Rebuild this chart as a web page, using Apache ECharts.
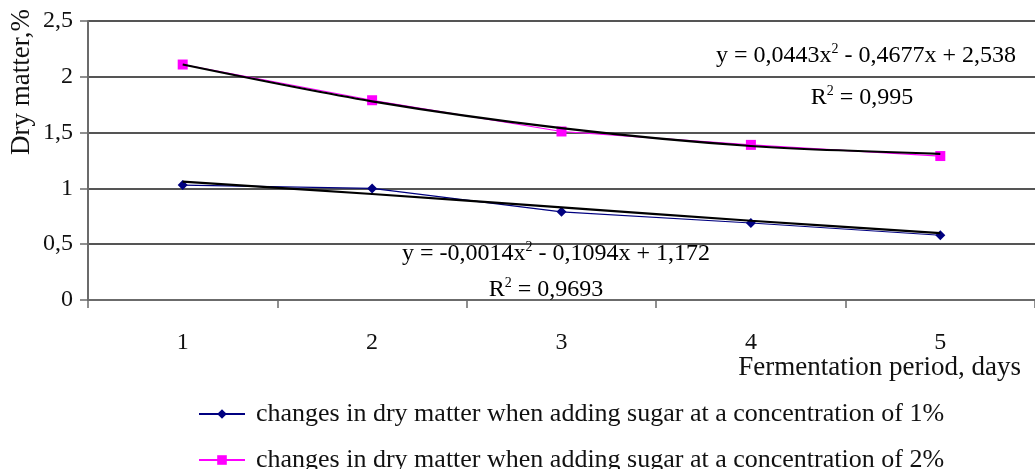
<!DOCTYPE html>
<html>
<head>
<meta charset="utf-8">
<script src="https://cdn.jsdelivr.net/npm/echarts@6/dist/echarts.min.js"></script>
<style>
  html, body { margin: 0; padding: 0; background: #fff; }
  #chart { width: 1035px; height: 469px; }
</style>
</head>
<body>
<div id="chart"></div>
<script>
  // data
  var days = ['1', '2', '3', '4', '5'];
  var sugar1 = [1.03, 1.0, 0.79, 0.69, 0.58];
  var sugar2 = [2.11, 1.79, 1.51, 1.39, 1.29];
  var trend1 = [1.06, 0.95, 0.83, 0.71, 0.60];
  var trend2 = [2.11, 1.78, 1.54, 1.38, 1.31];
  var name1 = 'changes in dry matter when adding sugar at a concentration of 1%';
  var name2 = 'changes in dry matter when adding sugar at a concentration of 2%';

  var serif = '"Liberation Serif", "DejaVu Serif", serif';
  var axisGray = '#6b6b6b';

  var eqRich = {
    a: { fontFamily: serif, fontSize: 24, color: '#111', lineHeight: 28 },
    s: { fontFamily: serif, fontSize: 14, color: '#111', lineHeight: 28, verticalAlign: 'top' }
  };

  function eqText(x, y, str) {
    return {
      type: 'text', x: x, y: y, z: 50,
      style: { text: str, rich: eqRich, align: 'center', verticalAlign: 'middle' }
    };
  }

  function legendFor(name, top) {
    return {
      data: [name],
      orient: 'vertical',
      left: 193, top: top,
      itemWidth: 46, itemHeight: 12,
      textStyle: { fontFamily: serif, fontSize: 26, color: '#111', padding: [0, 0, 0, 6] }
    };
  }

  var chart = echarts.init(document.getElementById('chart'));
  var option = {
    animation: false,
    backgroundColor: '#fff',
    grid: { left: 88, top: 21, bottom: 169, right: -14 },
    xAxis: {
      type: 'category',
      data: days,
      boundaryGap: true,
      axisLine: { lineStyle: { color: axisGray, width: 2 } },
      axisTick: { show: true, length: 8, lineStyle: { color: axisGray, width: 1.5 } },
      axisLabel: { fontFamily: serif, fontSize: 24, color: '#111', margin: 31 }
    },
    yAxis: {
      type: 'value',
      min: 0, max: 2.5, interval: 0.5,
      axisLine: { show: true, lineStyle: { color: axisGray, width: 2 } },
      axisTick: { show: true, length: 8, lineStyle: { color: axisGray, width: 1.5 } },
      splitLine: { lineStyle: { color: '#555', width: 2 } },
      axisLabel: {
        fontFamily: serif, fontSize: 24, color: '#111', margin: 15,
        formatter: function (v) { return String(v).replace('.', ','); }
      }
    },
    legend: [legendFor(name1, 396), legendFor(name2, 442)],
    graphic: [
      {
        type: 'text', x: 22, y: 82, rotation: Math.PI / 2,
        style: { text: 'Dry matter,%', fontFamily: serif, fontSize: 27, fill: '#111', align: 'center', verticalAlign: 'middle' }
      },
      {
        type: 'text', x: 1021, y: 368,
        style: { text: 'Fermentation period, days', fontFamily: serif, fontSize: 27, fill: '#111', align: 'right', verticalAlign: 'middle' }
      },
      eqText(866, 56, '{a|y = 0,0443x}{s|2}{a| - 0,4677x + 2,538}'),
      eqText(862, 98, '{a|R}{s|2}{a| = 0,995}'),
      eqText(556, 254, '{a|y = -0,0014x}{s|2}{a| - 0,1094x + 1,172}'),
      eqText(546, 290, '{a|R}{s|2}{a| = 0,9693}')
    ],
    series: [
      {
        name: name1, type: 'line', data: sugar1,
        symbol: 'diamond', symbolSize: 10,
        itemStyle: { color: '#000080' },
        lineStyle: { color: '#000080', width: 1.2 }
      },
      {
        name: name2, type: 'line', data: sugar2,
        symbol: 'rect', symbolSize: 10,
        itemStyle: { color: '#ff00ff' },
        lineStyle: { color: '#ff00ff', width: 1.2 }
      },
      {
        name: 'trend1', type: 'line', data: trend1, smooth: 0.3,
        symbol: 'none', silent: true, z: 5,
        lineStyle: { color: '#000', width: 2.2 }
      },
      {
        name: 'trend2', type: 'line', data: trend2, smooth: 0.3,
        symbol: 'none', silent: true, z: 5,
        lineStyle: { color: '#000', width: 2.2 }
      }
    ]
  };
  chart.setOption(option);
</script>
</body>
</html>
